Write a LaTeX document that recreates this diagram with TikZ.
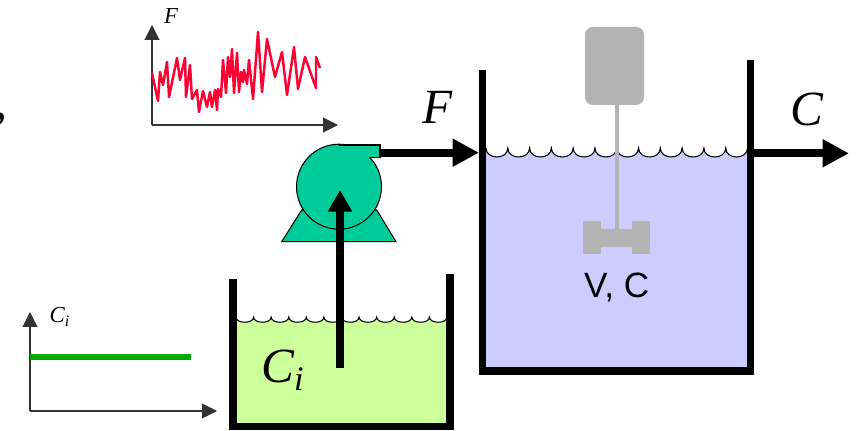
\documentclass[tikz,border=0pt]{standalone}
\usepackage{fontspec}
\setmainfont{Liberation Serif}
\newfontfamily\sansface{Liberation Sans}
\usetikzlibrary{arrows.meta}
\definecolor{PumpFill}{HTML}{00CC99}
\definecolor{FeedFill}{HTML}{CCFF99}
\definecolor{TankFill}{HTML}{CCCCFF}
\definecolor{MixGray}{HTML}{B3B3B3}
\definecolor{NoiseRed}{HTML}{FF0033}
\definecolor{StepGreen}{HTML}{00AA00}
\definecolor{AxisInk}{HTML}{333333}

\tikzset{
  wall/.style={line width=4pt, line join=miter},
  pipe/.style={line width=4.4pt, -{Triangle[length=15pt,width=15pt]}},
  axis/.style={AxisInk, line width=0.6pt, -{Triangle[length=8.5pt,width=8.5pt]}},
  wave/.style={line width=0.6pt},
  biglbl/.style={font=\fontsize{28}{32}\selectfont\itshape},
  smalllbl/.style={font=\fontsize{13}{15}\selectfont\itshape},
}

\begin{document}
\begin{tikzpicture}[x=0.02cm, y=-0.02cm]
\useasboundingbox (0,0) rectangle (861,431);

\node[font=\fontsize{30}{34}\selectfont, inner sep=0pt, anchor=base east] (cut) at (8,119) {,};

% input flow plot
\coordinate (fO) at (152,125);
\coordinate (fY) at (152,25);
\coordinate (fX) at (338,125);
\draw[axis] (fO) -- (fY);
\draw[axis] (fO) -- (fX);
\node[smalllbl] (fLbl) at (171,16) {F};
\draw[NoiseRed, line width=1.4pt, line join=round] plot coordinates {
  (152,73) (158,101) (160,72) (163,85) (167,62) (169,97) (177,58) (180,80)
  (185,58) (186,97) (190,65) (192,99) (197,90) (199,112) (203,91) (207,107)
  (210,92) (212,107) (215,90) (217,110) (218,89) (221,97) (223,60) (226,93)
  (228,57) (230,77) (232,49) (234,93) (237,53) (239,92) (241,72) (243,82)
  (244,70) (247,84) (249,60) (253,99) (258,32) (262,92) (267,39) (275,77)
  (282,52) (287,95) (294,47) (298,89) (305,57) (316,88) (316,57) (320,68)};

% feed concentration plot
\coordinate (cO) at (30,411);
\coordinate (cY) at (30,312);
\coordinate (cX) at (217,411);
\draw[axis] (cO) -- (cY);
\draw[axis] (cO) -- (cX);
\node[smalllbl] (cLbl) at (60,317) {C\textsubscript{i}};
\draw[StepGreen, line width=3.8pt] (30,357) -- (191,357);

% feed tank
\def\fL{236}
\def\fR{447}
\def\fLev{317}
\def\fW{17.583}
\fill[FeedFill] (\fL,\fLev) \foreach \k in {1,...,12} {
  .. controls ({\fL+(\k-1)*\fW},{\fLev+7}) and ({\fL+\k*\fW},{\fLev+7}) .. ({\fL+\k*\fW},\fLev)
  } -- (\fR,426) -- (\fL,426) -- cycle;
\draw[wave] (\fL,\fLev) \foreach \k in {1,...,12} {
  .. controls ({\fL+(\k-1)*\fW},{\fLev+7}) and ({\fL+\k*\fW},{\fLev+7}) .. ({\fL+\k*\fW},\fLev)
  };
\draw[wall] (233,279) -- (233,426.5) -- (450,426.5) -- (450,274);
\node[biglbl] (ciLbl) at (283,370) {C\textsubscript{i}};

% stirred tank
\def\bL{486}
\def\bR{747.5}
\def\bLev{148}
\def\bW{21.792}
\fill[TankFill] (\bL,\bLev) \foreach \k in {1,...,12} {
  .. controls ({\bL+(\k-1)*\bW},{\bLev+12}) and ({\bL+\k*\bW},{\bLev+12}) .. ({\bL+\k*\bW},\bLev)
  } -- (\bR,371) -- (\bL,371) -- cycle;
\draw[wave] (\bL,\bLev) \foreach \k in {1,...,12} {
  .. controls ({\bL+(\k-1)*\bW},{\bLev+12}) and ({\bL+\k*\bW},{\bLev+12}) .. ({\bL+\k*\bW},\bLev)
  };
\fill[MixGray, rounded corners=4.5pt] (585,27) rectangle (644,105);
\fill[MixGray] (614.5,104) rectangle (619,230);
\fill[MixGray] (583,221) rectangle (601,254);
\fill[MixGray] (632,221) rectangle (650,254);
\fill[MixGray] (600,229) rectangle (633,247);
\draw[wall] (482.5,70) -- (482.5,371) -- (750.7,371) -- (750.7,60);
\node[font=\sansface\fontsize{20}{24}\selectfont] (vcLbl) at (616.7,287) {V, C};

% pump
\draw[fill=PumpFill, line width=0.6pt] (301.7,210) -- (376.7,210) -- (396,241.7) -- (281.7,241.7) -- cycle;
\draw[fill=PumpFill, line width=0.6pt] (339,186.7) circle[radius=0.85cm];
\fill[PumpFill] (339,145.3) rectangle (380,157.3);
\draw[line width=0.6pt] (339,145) -- (380,145) -- (380,157.3) -- (369.4,157.3);

% flows
\coordinate (dipEnd) at (340,368);
\coordinate (pumpEye) at (340,190);
\coordinate (pumpOut) at (380,152.7);
\coordinate (feedIn) at (479,152.7);
\coordinate (tankOut) at (750.7,153.3);
\coordinate (prodEnd) at (849,153.3);
\draw[pipe, line width=4pt, -{Triangle[length=12.3pt,width=13pt]}] (dipEnd) -- (pumpEye);
\draw[pipe] (pumpOut) -- (feedIn);
\draw[pipe] (tankOut) -- (prodEnd);
\node[biglbl] (feedLbl) at (438,107) {F};
\node[biglbl] (outLbl) at (807,109) {C};
\end{tikzpicture}
\end{document}
